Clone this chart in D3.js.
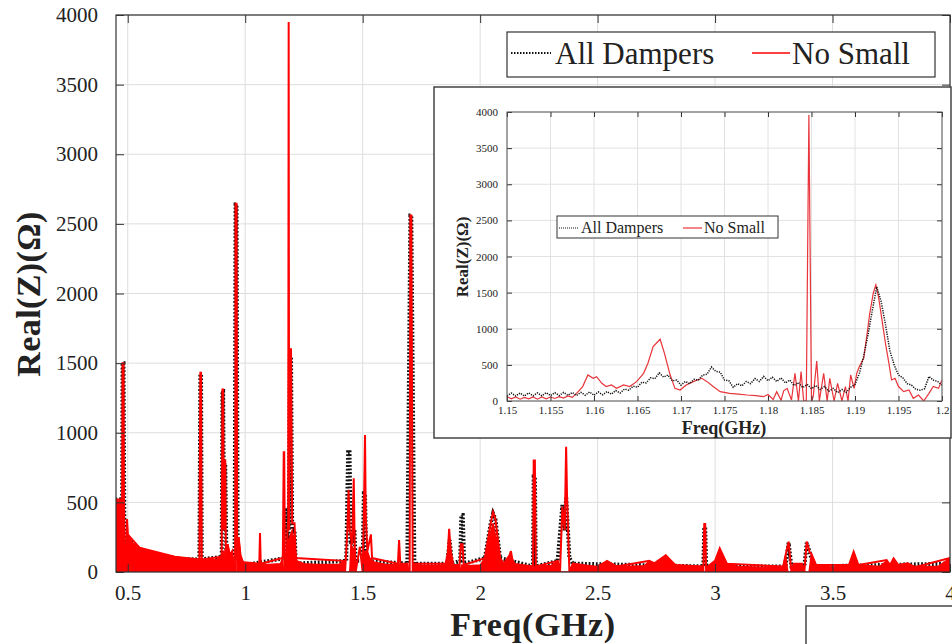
<!DOCTYPE html>
<html><head><meta charset="utf-8">
<script src="https://cdn.jsdelivr.net/npm/d3@7"></script>
<style>
body{margin:0;background:#fff;}
svg{display:block;}
text{font-family:"Liberation Serif","Times New Roman",serif;fill:#222;}
</style></head>
<body><svg id="c" width="952" height="644"></svg>
<script>
// ---------------- DATA ----------------
const seriesNames = ["All Dampers", "No Small"];
const mainXTicks = [0.5, 1, 1.5, 2, 2.5, 3, 3.5, 4];
const mainYTicks = [0, 500, 1000, 1500, 2000, 2500, 3000, 3500, 4000];
const insetXTicks = [1.15, 1.155, 1.16, 1.165, 1.17, 1.175, 1.18, 1.185, 1.19, 1.195, 1.2];
const insetXTickLabels = ["1.15","1.155","1.16","1.165","1.17","1.175","1.18","1.185","1.19","1.195","1.2"];
const insetYTicks = [0, 500, 1000, 1500, 2000, 2500, 3000, 3500, 4000];

// No Small: solid red band (dense oscillation envelope), [GHz, Ohm]
const noSmallBand = [
 [0.45,250],[0.452,500],[0.476,520],[0.484,480],[0.488,0],[0.493,0],[0.497,380],[0.5,270],[0.51,240],[0.52,210],
 [0.55,175],[0.6,145],[0.65,125],[0.7,110],[0.75,98],[0.8,88],[0.81,95],[0.82,85],[0.85,88],[0.88,92],[0.9,120],
 [0.91,150],[0.915,0],[0.921,0],[0.925,200],[0.935,120],[0.945,150],[0.95,0],[0.957,0],[0.966,0],[0.97,0],[0.972,250],
 [0.98,120],[0.99,75],[1.0,65],[1.05,60],[1.1,55],[1.15,60],[1.16,100],[1.163,0],[1.17,0],[1.178,200],[1.2,300],
 [1.21,200],[1.22,80],[1.25,60],[1.3,55],[1.35,55],[1.4,55],[1.42,80],[1.425,0],[1.445,0],[1.45,200],[1.465,150],
 [1.47,0],[1.5,0],[1.505,150],[1.52,150],[1.53,100],[1.55,70],[1.6,55],[1.65,55],[1.69,60],[1.693,0],[1.7,0],
 [1.713,0],[1.718,0],[1.72,60],[1.75,45],[1.8,45],[1.85,50],[1.87,200],[1.885,50],[1.905,50],[1.91,0],[1.915,0],
 [1.92,50],[1.95,45],[2.0,50],[2.02,100],[2.055,350],[2.085,100],[2.1,60],[2.13,120],[2.15,50],[2.2,45],[2.222,45],
 [2.225,0],[2.235,45],[2.3,45],[2.33,80],[2.34,0],[2.38,0],[2.395,60],[2.45,45],[2.5,40],[2.52,60],[2.54,75],
 [2.56,50],[2.6,40],[2.7,45],[2.72,80],[2.75,60],[2.79,120],[2.83,50],[2.9,40],[2.945,40],[2.95,0],[2.962,0],
 [2.97,40],[3.0,80],[3.02,160],[3.05,60],[3.1,40],[3.2,35],[3.29,40],[3.3,120],[3.31,0],[3.325,0],[3.335,60],
 [3.37,60],[3.38,0],[3.4,0],[3.41,130],[3.43,50],[3.5,35],[3.57,50],[3.59,140],[3.61,50],[3.7,40],[3.73,80],
 [3.745,50],[3.76,90],[3.78,50],[3.82,60],[3.85,40],[3.95,40],[4.0,100]
];
// No Small: resonance peaks, [GHz, Ohm]
const noSmallMain = [
 [0.45,250],[0.452,520],[0.476,520],[0.478,1500],[0.482,1500],[0.484,500],[0.488,0],[0.493,0],[0.497,380],[0.5,270],
 [0.55,175],[0.7,110],[0.805,90],[0.809,1430],[0.812,1430],[0.815,90],[0.9,110],[0.903,1310],[0.906,1310],[0.909,300],
 [0.912,800],[0.915,800],[0.918,0],[0.922,0],[0.925,200],[0.935,120],[0.945,150],[0.952,0],[0.957,0],[0.959,2645],
 [0.963,2645],[0.966,0],[0.97,0],[0.972,250],[0.98,120],[0.99,70],[1.06,60],[1.063,280],[1.066,60],[1.16,100],
 [1.164,860],[1.166,860],[1.169,0],[1.175,0],[1.18,300],[1.183,380],[1.185,3950],[1.187,300],[1.19,1600],[1.195,1600],
 [1.2,350],[1.21,350],[1.215,100],[1.42,80],[1.425,0],[1.435,300],[1.44,590],[1.445,300],[1.455,200],[1.462,673],
 [1.466,200],[1.47,0],[1.488,180],[1.5,0],[1.505,400],[1.51,984],[1.513,400],[1.52,150],[1.535,270],[1.54,100],
 [1.65,60],[1.655,230],[1.66,60],[1.69,60],[1.693,0],[1.7,0],[1.703,2560],[1.707,2560],[1.713,0],[1.718,0],[1.72,60],
 [1.86,60],[1.868,310],[1.875,150],[1.885,50],[1.905,50],[1.91,0],[1.918,200],[1.925,200],[1.93,50],[2.02,100],
 [2.045,350],[2.055,430],[2.065,380],[2.085,100],[2.1,60],[2.125,120],[2.131,150],[2.14,60],[2.22,40],[2.225,0],
 [2.228,800],[2.233,800],[2.237,40],[2.33,80],[2.34,0],[2.35,470],[2.36,300],[2.366,900],[2.37,540],[2.38,0],
 [2.395,60],[2.5,35],[2.54,80],[2.58,40],[2.72,80],[2.74,60],[2.79,120],[2.83,50],[2.945,40],[2.95,0],[2.954,345],
 [2.958,345],[2.962,0],[2.97,40],[3.0,80],[3.02,170],[3.05,60],[3.29,40],[3.3,120],[3.313,218],[3.325,0],[3.335,60],
 [3.37,60],[3.38,0],[3.39,218],[3.403,140],[3.41,130],[3.43,50],[3.57,50],[3.59,146],[3.61,50],[3.73,86],[3.745,50],
 [3.76,98],[3.78,50],[3.82,62],[3.85,35],[4.0,100]
];
// All Dampers: [GHz, Ohm]
const allDampersMain = [
 [0.45,280],[0.452,520],[0.476,520],[0.478,1500],[0.482,1500],[0.486,200],[0.5,250],[0.55,160],[0.7,95],
 [0.805,90],[0.809,1420],[0.812,1420],[0.815,90],[0.9,110],[0.903,1300],[0.906,1300],[0.91,300],[0.912,780],
 [0.915,780],[0.92,100],[0.955,100],[0.959,2640],[0.963,2640],[0.968,100],[1.0,50],[1.17,100],[1.173,460],
 [1.176,300],[1.185,200],[1.19,1550],[1.195,1550],[1.2,300],[1.21,300],[1.215,60],[1.43,80],[1.438,860],
 [1.444,860],[1.45,200],[1.465,300],[1.47,80],[1.5,80],[1.505,565],[1.51,565],[1.515,80],[1.69,60],[1.703,2560],
 [1.707,2560],[1.72,60],[1.86,60],[1.87,230],[1.88,60],[1.915,80],[1.92,409],[1.926,409],[1.932,60],[2.02,100],
 [2.045,350],[2.055,420],[2.065,380],[2.085,100],[2.225,40],[2.228,685],[2.233,685],[2.237,40],[2.33,80],
 [2.35,481],[2.36,300],[2.366,540],[2.38,100],[2.395,60],[2.95,40],[2.954,320],[2.958,320],[2.962,40],
 [3.3,40],[3.313,210],[3.325,40],[3.38,40],[3.39,210],[3.403,140],[3.42,40],[4.0,60]
];
// Inset (zoom 1.15–1.2 GHz)
const noSmallInset = [
 [1.15,60],[1.1505,30],[1.151,55],[1.1515,25],[1.152,50],[1.1525,30],[1.153,55],[1.1535,25],[1.154,55],[1.1545,30],
 [1.155,55],[1.1555,35],[1.156,60],[1.1565,40],[1.157,70],[1.1575,50],[1.158,106],[1.1587,200],[1.1593,360],
 [1.1599,314],[1.1603,337],[1.1609,245],[1.1614,200],[1.162,222],[1.1626,175],[1.1634,222],[1.1641,200],[1.1649,268],
 [1.1657,383],[1.1662,522],[1.1668,753],[1.1676,855],[1.1681,660],[1.1687,383],[1.1693,175],[1.1699,152],[1.1706,222],
 [1.1714,268],[1.1724,314],[1.173,268],[1.1737,200],[1.1745,129],[1.1756,106],[1.1766,95],[1.1776,83],[1.1786,75],
 [1.1795,60],[1.18,90],[1.1806,20],[1.181,129],[1.1815,10],[1.1818,140],[1.1822,175],[1.1827,14],[1.1831,383],
 [1.1835,0],[1.1838,406],[1.1841,0],[1.1844,0],[1.1847,3960],[1.185,0],[1.1852,60],[1.1856,554],[1.1859,0],
 [1.1864,383],[1.1868,0],[1.1871,314],[1.1876,0],[1.188,245],[1.1885,0],[1.1889,200],[1.1892,0],[1.1895,360],
 [1.1899,175],[1.1902,383],[1.1905,476],[1.191,591],[1.1914,938],[1.1917,1215],[1.1921,1492],[1.1924,1607],
 [1.1927,1446],[1.1931,1122],[1.1935,799],[1.1939,522],[1.1942,291],[1.1946,314],[1.195,200],[1.1956,129],
 [1.1962,152],[1.1967,37],[1.1973,83],[1.1979,0],[1.1985,106],[1.199,200],[1.1996,175],[1.2,291]
];
const allDampersInset = [
 [1.15,70],[1.1505,110],[1.151,70],[1.1515,110],[1.152,70],[1.1525,112],[1.153,72],[1.1535,112],[1.154,72],[1.1545,115],
 [1.155,75],[1.1555,115],[1.156,75],[1.1565,118],[1.157,78],[1.1575,118],[1.158,78],[1.1585,120],[1.159,80],[1.1595,125],
 [1.16,80],[1.1605,125],[1.161,85],[1.1615,130],[1.162,95],[1.1625,145],[1.163,110],[1.1635,165],[1.164,150],[1.1645,205],
 [1.165,190],[1.1655,260],[1.166,250],[1.1665,320],[1.167,310],[1.1675,390],[1.168,330],[1.1685,360],[1.169,280],[1.1695,290],
 [1.17,220],[1.1705,270],[1.171,240],[1.1715,300],[1.172,290],[1.1725,360],[1.173,370],[1.1735,470],[1.174,410],[1.1745,400],
 [1.175,290],[1.1755,280],[1.176,190],[1.1765,240],[1.177,210],[1.1775,270],[1.178,240],[1.1785,310],[1.179,270],[1.1795,340],
 [1.18,280],[1.1805,330],[1.181,270],[1.1815,320],[1.182,250],[1.1825,290],[1.183,215],[1.1835,255],[1.184,185],[1.1845,230],
 [1.185,170],[1.1855,215],[1.186,160],[1.1865,200],[1.187,135],[1.1875,175],[1.188,115],[1.1885,160],[1.189,120],[1.1895,190],
 [1.19,230],[1.1905,380],[1.191,620],[1.1915,920],[1.192,1260],[1.1925,1580],[1.193,1380],[1.1935,1060],[1.194,700],[1.1945,500],
 [1.195,360],[1.1955,320],[1.196,240],[1.1965,220],[1.197,160],[1.1975,150],[1.198,170],[1.1985,340],[1.199,290],[1.1995,270],
 [1.2,220]
];

// ---------------- DRAW ----------------
const svg = d3.select("#c");
const SERIF = '"Liberation Serif","Times New Roman",serif';
const RED = "#ff0000";

// main scales
const x = d3.scaleLinear().domain([0.45, 4.0]).range([116, 950]);
const y = d3.scaleLinear().domain([0, 4000]).range([572, 15]);
const [X0, X1] = x.range(), [Y1, Y0] = y.range();

const defs = svg.append("defs");
defs.append("clipPath").attr("id","clipMain").append("rect")
  .attr("x",X0).attr("y",Y0).attr("width",X1-X0).attr("height",Y1-Y0);

const g = svg.append("g");
// grid
g.append("g").selectAll("line").data(mainXTicks).join("line")
  .attr("x1",d=>x(d)).attr("x2",d=>x(d)).attr("y1",Y0).attr("y2",Y1)
  .attr("stroke","#dedede").attr("stroke-width",1);
g.append("g").selectAll("line").data(mainYTicks).join("line")
  .attr("x1",X0).attr("x2",X1).attr("y1",d=>y(d)).attr("y2",d=>y(d))
  .attr("stroke","#dedede").attr("stroke-width",1);

const plot = g.append("g").attr("clip-path","url(#clipMain)");
const line = d3.line().x(d=>x(d[0])).y(d=>y(d[1]));
plot.append("path").datum(allDampersMain).attr("d",line)
  .attr("fill","none").attr("stroke","#111").attr("stroke-width",4)
  .attr("stroke-dasharray","1.8,1.8");
plot.append("path").datum(noSmallBand)
  .attr("d", d3.area().x(d=>x(d[0])).y0(y(0)).y1(d=>y(d[1])))
  .attr("fill",RED).attr("stroke",RED).attr("stroke-width",1.4);
plot.append("path").datum(noSmallMain).attr("d",line)
  .attr("fill","none").attr("stroke",RED).attr("stroke-width",2);

// axes
function styleAxis(sel, fs){
  sel.select(".domain").remove();
  sel.selectAll(".tick line").attr("stroke","#333");
  sel.selectAll(".tick text").attr("font-family",SERIF).attr("font-size",fs).attr("fill","#222");
}
const fmt = d=>String(d);
g.append("g").attr("transform",`translate(0,${Y1})`)
  .call(d3.axisBottom(x).tickValues(mainXTicks).tickFormat(fmt).tickSize(-8).tickPadding(13))
  .call(s=>styleAxis(s,21));
g.append("g").attr("transform",`translate(${X0},0)`)
  .call(d3.axisLeft(y).tickValues(mainYTicks).tickFormat(fmt).tickSize(-8).tickPadding(18))
  .call(s=>styleAxis(s,21));
g.append("g").attr("transform",`translate(0,${Y0})`)
  .call(d3.axisTop(x).tickValues(mainXTicks).tickFormat("").tickSize(-8))
  .call(s=>styleAxis(s,21));
g.append("g").attr("transform",`translate(${X1},0)`)
  .call(d3.axisRight(y).tickValues(mainYTicks).tickFormat("").tickSize(-8))
  .call(s=>styleAxis(s,21));
g.append("rect").attr("x",X0).attr("y",Y0).attr("width",X1-X0).attr("height",Y1-Y0)
  .attr("fill","none").attr("stroke","#333").attr("stroke-width",1.2);

// axis titles
svg.append("text").attr("x",533).attr("y",636).attr("text-anchor","middle")
  .attr("font-size",34).attr("font-weight","bold").attr("font-family",SERIF)
  .attr("letter-spacing",0.6).text("Freq(GHz)");
svg.append("text").attr("transform","translate(40,294) rotate(-90)").attr("text-anchor","middle")
  .attr("font-size",34).attr("font-weight","bold").attr("font-family",SERIF)
  .attr("letter-spacing",0.4).text("Real(Z)(Ω)");

// main legend
const lg = svg.append("g");
lg.append("rect").attr("x",507).attr("y",32).attr("width",428).attr("height",45)
  .attr("fill","#fff").attr("stroke","#333").attr("stroke-width",1.2);
lg.append("line").attr("x1",511).attr("x2",551).attr("y1",53).attr("y2",53)
  .attr("stroke","#111").attr("stroke-width",2).attr("stroke-dasharray","1.5,1.5");
lg.append("text").attr("x",555).attr("y",64).attr("font-size",31).attr("font-family",SERIF).text(seriesNames[0]);
lg.append("line").attr("x1",752).attr("x2",790).attr("y1",53).attr("y2",53)
  .attr("stroke",RED).attr("stroke-width",1.5);
lg.append("text").attr("x",792).attr("y",64).attr("font-size",31).attr("font-family",SERIF).text(seriesNames[1]);

// ---------------- INSET ----------------
const ins = svg.append("g");
ins.append("rect").attr("x",434).attr("y",87).attr("width",517).attr("height",351)
  .attr("fill","#fff").attr("stroke","#444").attr("stroke-width",1.5);
const xi = d3.scaleLinear().domain([1.15, 1.2]).range([507, 942]);
const yi = d3.scaleLinear().domain([0, 4000]).range([401, 112]);
const [XI0, XI1] = xi.range(), [YI1, YI0] = yi.range();
defs.append("clipPath").attr("id","clipIns").append("rect")
  .attr("x",XI0).attr("y",YI0).attr("width",XI1-XI0).attr("height",YI1-YI0);

ins.append("g").selectAll("line").data(insetXTicks).join("line")
  .attr("x1",d=>xi(d)).attr("x2",d=>xi(d)).attr("y1",YI0).attr("y2",YI1)
  .attr("stroke","#e2e2e2").attr("stroke-width",1);
ins.append("g").selectAll("line").data(insetYTicks).join("line")
  .attr("x1",XI0).attr("x2",XI1).attr("y1",d=>yi(d)).attr("y2",d=>yi(d))
  .attr("stroke","#e2e2e2").attr("stroke-width",1);

const iplot = ins.append("g").attr("clip-path","url(#clipIns)");
const iline = d3.line().x(d=>xi(d[0])).y(d=>yi(d[1]));
iplot.append("path").datum(noSmallInset).attr("d",iline)
  .attr("fill","none").attr("stroke","#e8343a").attr("stroke-width",1.2);
iplot.append("path").datum(allDampersInset).attr("d",iline)
  .attr("fill","none").attr("stroke","#111").attr("stroke-width",1.5)
  .attr("stroke-dasharray","1.2,1.2");

ins.append("g").attr("transform",`translate(0,${YI1})`)
  .call(d3.axisBottom(xi).tickValues(insetXTicks).tickFormat((d,i)=>insetXTickLabels[i]).tickSize(-5).tickPadding(5))
  .call(s=>styleAxis(s,11));
ins.append("g").attr("transform",`translate(${XI0},0)`)
  .call(d3.axisLeft(yi).tickValues(insetYTicks).tickFormat(fmt).tickSize(-5).tickPadding(9))
  .call(s=>styleAxis(s,11));
ins.append("g").attr("transform",`translate(0,${YI0})`)
  .call(d3.axisTop(xi).tickValues(insetXTicks).tickFormat("").tickSize(-5))
  .call(s=>styleAxis(s,11));
ins.append("g").attr("transform",`translate(${XI1},0)`)
  .call(d3.axisRight(yi).tickValues(insetYTicks).tickFormat("").tickSize(-5))
  .call(s=>styleAxis(s,11));
ins.append("rect").attr("x",XI0).attr("y",YI0).attr("width",XI1-XI0).attr("height",YI1-YI0)
  .attr("fill","none").attr("stroke","#555").attr("stroke-width",1);

ins.append("text").attr("x",724).attr("y",434).attr("text-anchor","middle")
  .attr("font-size",18).attr("font-weight","bold").attr("font-family",SERIF).text("Freq(GHz)");
ins.append("text").attr("transform","translate(468,257) rotate(-90)").attr("text-anchor","middle")
  .attr("font-size",17).attr("font-weight","bold").attr("font-family",SERIF).text("Real(Z)(Ω)");

// inset legend
const il = ins.append("g");
il.append("rect").attr("x",557).attr("y",216).attr("width",221).attr("height",22)
  .attr("fill","#fff").attr("stroke","#333").attr("stroke-width",1);
il.append("line").attr("x1",559).attr("x2",579).attr("y1",228).attr("y2",228)
  .attr("stroke","#111").attr("stroke-width",1.2).attr("stroke-dasharray","1,1");
il.append("text").attr("x",581).attr("y",233).attr("font-size",16).attr("font-family",SERIF).text(seriesNames[0]);
il.append("line").attr("x1",683).attr("x2",702).attr("y1",228).attr("y2",228)
  .attr("stroke","#e8343a").attr("stroke-width",1.2);
il.append("text").attr("x",704).attr("y",233).attr("font-size",16).attr("font-family",SERIF).text(seriesNames[1]);

// bottom-right partial box
svg.append("rect").attr("x",806).attr("y",606).attr("width",160).attr("height",60)
  .attr("fill","#fff").attr("stroke","#444").attr("stroke-width",1.5);
</script></body></html>
